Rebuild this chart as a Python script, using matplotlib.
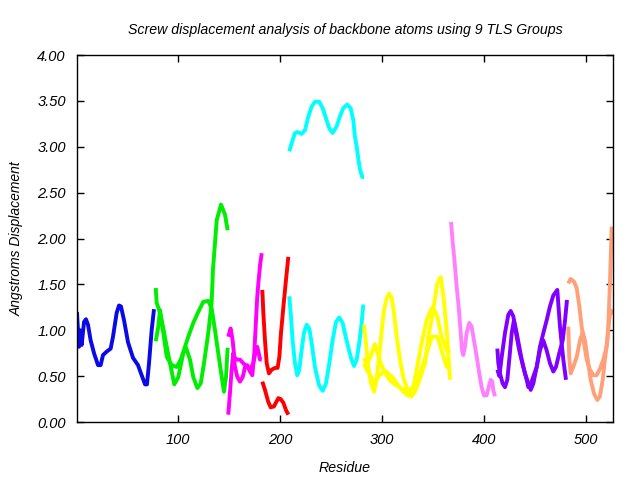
import matplotlib
matplotlib.use("Agg")
import matplotlib.pyplot as plt
from matplotlib.ticker import FormatStrFormatter

plt.rcParams["font.family"] = ["Liberation Sans", "DejaVu Sans"]

# residue / displacement pairs, one pair of lists per curve
blue_res = [1, 1.3, 3, 4, 5.6, 7.9, 9.8, 11.8, 14.4, 17.7, 21.6, 24.2, 26.5, 30.4, 34, 36.3,
            39.9, 42.2, 44.1, 47.1, 51, 55.9, 60.8, 64.4, 67.7, 69.6, 71.6, 74.2, 76.5]
blue_val = [1.20, 1.13, 0.82, 1.00, 0.84, 1.09, 1.12, 1.06, 0.89, 0.75, 0.62, 0.62, 0.73, 0.77,
            0.80, 0.93, 1.19, 1.27, 1.26, 1.11, 0.87, 0.70, 0.62, 0.51, 0.41, 0.41, 0.64, 1.00, 1.23]

green1_res = [78.2, 79.1, 82.4, 85.3, 89, 92.2, 96.4, 100.3, 105.2, 107.9, 111.8, 115, 119,
              122.3, 125.5, 129.7, 133, 134.3, 138, 142.2, 146.1, 148.7]
green1_val = [1.46, 1.30, 1.19, 1.04, 0.82, 0.64, 0.41, 0.49, 0.75, 0.81, 0.68, 0.49, 0.37,
              0.42, 0.64, 0.97, 1.30, 1.66, 2.20, 2.37, 2.26, 2.09]
green2_res = [78.2, 80.7, 82.4, 89, 93.9, 98.7, 102.7, 106.9, 110.1, 115, 119.9, 124.8, 129.7,
              133, 136.3, 139.5, 142.9, 145.1, 147.1, 148.7]
green2_val = [0.88, 1.04, 1.22, 0.71, 0.62, 0.60, 0.68, 0.82, 0.93, 1.08, 1.20, 1.31, 1.32,
              1.24, 1.00, 0.75, 0.49, 0.33, 0.49, 0.81]

magenta1_res = [149.3, 151, 152.6, 154.2, 155.9, 158.2, 160.8, 163.5, 165.7, 168, 170.6, 172.9,
                174.8, 176.5, 177.7, 179.1, 180.6, 182.1]
magenta1_val = [0.08, 0.32, 0.57, 0.75, 0.60, 0.49, 0.44, 0.49, 0.60, 0.62, 0.55, 0.51, 0.75,
                1.11, 1.36, 1.55, 1.72, 1.84]
magenta2_res = [149.3, 151.6, 153.6, 155.2, 157.6, 160.8, 164.1, 170.6, 173.8, 176.5, 177.7,
                179.1, 180.4, 182.1]
magenta2_val = [0.93, 1.02, 0.89, 0.71, 0.68, 0.68, 0.64, 0.57, 0.64, 0.78, 0.82, 0.76, 0.68, 0.68]

red1_res = [182.7, 183.7, 185.3, 187, 189.2, 191.8, 195.1, 197.7, 199.4, 201, 203.3, 205.9, 208.2]
red1_val = [1.44, 1.19, 0.89, 0.64, 0.53, 0.57, 0.59, 0.59, 0.71, 0.97, 1.25, 1.55, 1.80]
red2_res = [182.7, 185.3, 188.5, 190.9, 194.1, 198.4, 200.7, 203.3, 205.9, 208.2]
red2_val = [0.44, 0.35, 0.22, 0.16, 0.17, 0.26, 0.25, 0.21, 0.13, 0.08]

cyan1_res = [209.1, 211.5, 214.7, 217.3, 221.2, 224.5, 227.8, 231.1, 234.3, 238.5, 241.9, 245.1,
             248.4, 251.6, 255.5, 258.8, 262, 265.9, 269.3, 271.9, 273.5, 275.2, 276.8, 278.5,
             280.7, 282.4]
cyan1_val = [2.95, 3.04, 3.15, 3.16, 3.14, 3.18, 3.33, 3.44, 3.49, 3.49, 3.42, 3.31, 3.20, 3.15,
             3.22, 3.33, 3.42, 3.46, 3.42, 3.29, 3.11, 3.00, 2.87, 2.75, 2.67, 2.67]
cyan2_res = [209.1, 210.5, 212.4, 214.7, 217, 218.9, 221.2, 223.5, 226.2, 228.7, 231.1, 234.3,
             238.3, 241.9, 245.1, 248.4, 251.6, 254.9, 258.1, 261.4, 265.3, 269.3, 272.6,
             275.2, 277.7, 280.1, 281.7]
cyan2_val = [1.37, 1.19, 0.89, 0.64, 0.51, 0.57, 0.78, 0.97, 1.06, 1.02, 0.86, 0.60, 0.40, 0.34,
             0.42, 0.64, 0.89, 1.09, 1.14, 1.08, 0.89, 0.71, 0.61, 0.68, 0.86, 1.08, 1.28]

yellow1_res = [282.4, 284.3, 286.6, 289.3, 292.2, 294.6, 297.3, 299.5, 302, 304.6, 307.2, 309.6,
               311.9, 314.5, 317.7, 321, 324.3, 327.5, 331.8, 335.6, 342.2, 345.5, 350.3,
               354.2, 357.6, 360.2, 363.5, 366.7]
yellow1_val = [1.06, 0.86, 0.60, 0.42, 0.33, 0.46, 0.71, 0.97, 1.22, 1.35, 1.40, 1.35, 1.18,
               0.93, 0.68, 0.48, 0.38, 0.30, 0.33, 0.42, 0.64, 0.93, 1.22, 1.51, 1.58, 1.37,
               1.00, 0.46]
yellow2_res = [282.4, 285, 289, 292, 297, 303, 307, 311, 316, 321, 325, 329, 332.4, 337.3,
               343.8, 348.7, 354.2, 358.5, 363.5, 366.7]
yellow2_val = [0.64, 0.57, 0.50, 0.42, 0.50, 0.56, 0.52, 0.48, 0.40, 0.33, 0.29, 0.28, 0.33,
               0.53, 0.75, 0.93, 0.93, 0.78, 0.60, 0.60]
yellow3_res = [282.4, 285, 289, 293, 297, 302, 308, 314, 320, 326, 330.7, 334.5, 338.9, 343.8,
               348.7, 351.5, 354.2, 358.5, 363.5, 366.7]
yellow3_val = [0.70, 0.62, 0.72, 0.85, 0.70, 0.55, 0.45, 0.40, 0.36, 0.34, 0.38, 0.60, 0.86,
               1.11, 1.24, 1.22, 1.15, 0.93, 0.78, 0.75]

pink_res = [367.7, 369.4, 371, 373.3, 375.5, 377.2, 378.5, 379.7, 381.4, 383, 385.6, 387.9,
            390.2, 392.9, 395.4, 397.7, 400, 402.6, 404.6, 406.6, 408.2, 409.1, 410.8]
pink_val = [2.18, 1.95, 1.77, 1.47, 1.22, 0.97, 0.78, 0.73, 0.82, 0.97, 1.08, 1.04, 0.89, 0.71,
            0.53, 0.38, 0.29, 0.29, 0.38, 0.46, 0.44, 0.35, 0.28]

purple1_res = [413.1, 414.1, 415.7, 418.3, 420.6, 422.9, 424.8, 427.2, 429.4, 432.1, 434.6,
               437, 440.2, 443.5, 445.8, 448.4, 451.7, 454.9, 458.2, 461.5, 464.7, 468, 470.6,
               473.8, 477.2, 479.4, 481.4]
purple1_val = [0.80, 0.64, 0.53, 0.42, 0.38, 0.46, 0.68, 0.97, 1.11, 0.97, 0.82, 0.68, 0.53,
               0.42, 0.35, 0.42, 0.60, 0.78, 0.89, 0.78, 0.64, 0.55, 0.60, 0.75, 0.89, 1.10, 1.33]
purple2_res = [413.1, 415.1, 417.4, 420.6, 423.9, 426.2, 428.8, 431.4, 434.6, 438.5, 441.9,
               443.5, 446, 451.7, 454.9, 458.2, 461.5, 464.7, 468, 471.9, 474.5, 477.8, 480.4]
purple2_val = [0.57, 0.50, 0.71, 0.97, 1.17, 1.21, 1.15, 0.97, 0.78, 0.60, 0.46, 0.38, 0.42,
               0.60, 0.82, 0.97, 1.11, 1.26, 1.38, 1.44, 1.04, 0.68, 0.46]

salmon1_res = [482.7, 485, 488.3, 490.9, 493.5, 495.8, 498.1, 500.7, 503.9, 507.2, 510.5,
               513.7, 517, 520.3, 521.9, 523.5, 525.2]
salmon1_val = [1.51, 1.56, 1.53, 1.46, 1.26, 1.04, 0.86, 0.68, 0.57, 0.51, 0.51, 0.58, 0.68,
               0.82, 1.04, 1.51, 2.13]
salmon2_res = [482.7, 483.6, 485, 487.6, 490.9, 494.2, 496.8, 499, 501.7, 504.6, 507.9, 511.1,
               513.7, 516.4, 518.6, 520.9, 522.8, 524.2, 525.5]
salmon2_val = [1.04, 0.71, 0.53, 0.60, 0.71, 0.89, 0.98, 0.89, 0.68, 0.46, 0.31, 0.24, 0.28,
               0.46, 0.68, 0.89, 1.11, 1.22, 1.17]

groups = [
    ("#0a0ae6", [(blue_res, blue_val)]),
    ("#00ee00", [(green1_res, green1_val), (green2_res, green2_val)]),
    ("#ff00ff", [(magenta1_res, magenta1_val), (magenta2_res, magenta2_val)]),
    ("#ff0000", [(red1_res, red1_val), (red2_res, red2_val)]),
    ("#00ffff", [(cyan1_res, cyan1_val), (cyan2_res, cyan2_val)]),
    ("#ffff00", [(yellow1_res, yellow1_val), (yellow2_res, yellow2_val), (yellow3_res, yellow3_val)]),
    ("#ff80ff", [(pink_res, pink_val)]),
    ("#8000ff", [(purple1_res, purple1_val), (purple2_res, purple2_val)]),
    ("#ffa07a", [(salmon1_res, salmon1_val), (salmon2_res, salmon2_val)]),
]

fig = plt.figure(figsize=(6.4, 4.8), dpi=100)
ax = fig.add_axes([0.1203, 0.1208, 0.8375, 0.7646])

for color, curves in groups:
    for r, v in curves:
        ax.plot(r, v, color=color, lw=2.8, solid_joinstyle="round", solid_capstyle="butt")

ax.set_xlim(1, 526.5)
ax.set_ylim(0, 4)
ax.set_xticks([100, 200, 300, 400, 500])
ax.set_yticks([0, 0.5, 1, 1.5, 2, 2.5, 3, 3.5, 4])
ax.yaxis.set_major_formatter(FormatStrFormatter("%.2f"))
ax.tick_params(direction="in", length=5, width=1, top=True, right=True, labelsize=10.5, pad=8)
for lab in ax.get_xticklabels() + ax.get_yticklabels():
    lab.set_fontstyle("italic")
for s in ax.spines.values():
    s.set_linewidth(1)

ax.set_title("Screw displacement analysis of backbone atoms using 9 TLS Groups",
             fontsize=10.2, style="italic", pad=15)
ax.set_xlabel("Residue", fontsize=10.2, style="italic", labelpad=10)
ax.set_ylabel("Angstroms Displacement", fontsize=10, style="italic", labelpad=10)

fig.savefig("out.png", dpi=100)
